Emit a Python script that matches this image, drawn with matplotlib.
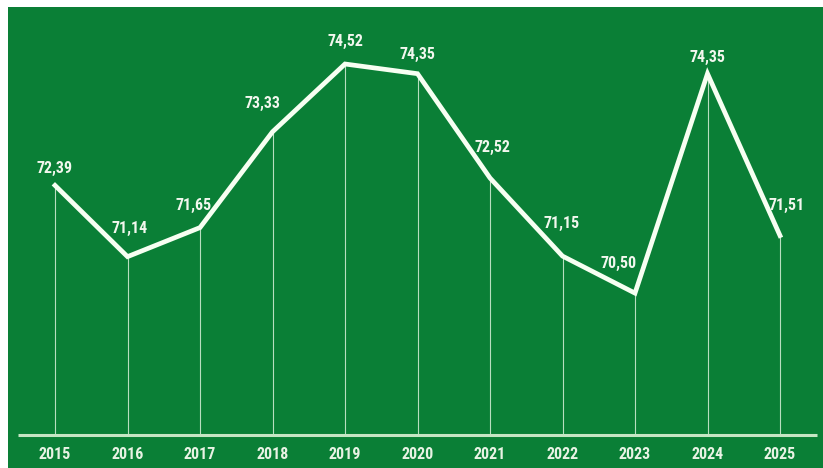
import matplotlib
matplotlib.use("Agg")
import matplotlib.pyplot as plt
from matplotlib import font_manager

years = ["2015", "2016", "2017", "2018", "2019", "2020", "2021", "2022", "2023", "2024", "2025"]
values = [72.39, 71.14, 71.65, 73.33, 74.52, 74.35, 72.52, 71.15, 70.50, 74.35, 71.51]
labels = ["72,39", "71,14", "71,65", "73,33", "74,52", "74,35", "72,52", "71,15", "70,50", "74,35", "71,51"]

# label offsets in pixels (dx, dy upward)
offsets_px = [(0, 17), (2, 28), (-6, 22), (-10, 28), (0, 23), (0, 19),
              (2, 31), (-1, 33), (-16, 30), (0, 16), (7, 30)]

names = {f.name for f in font_manager.fontManager.ttflist}
cands = ["Roboto Condensed", "Liberation Sans Narrow", "Open Sans Condensed"]
fam = [c for c in cands if c in names]
stretch = "normal"
if not fam:
    cond = [f for f in font_manager.fontManager.ttflist
            if f.name == "DejaVu Sans" and f.stretch == "condensed" and f.weight in ("bold", 700)]
    fam = ["DejaVu Sans"]
    stretch = "condensed" if cond else "normal"

GREEN = "#0a7f36"
W, H = 823, 468
fig = plt.figure(figsize=(W / 100, H / 100), dpi=100)
fig.patch.set_facecolor("white")
ax = fig.add_axes([8 / W, 0, 1 - 8 / W, (H - 7) / H])
ax.set_facecolor(GREEN)
for s in ax.spines.values():
    s.set_visible(False)
ax.set_xticks([])
ax.set_yticks([])

xs = list(range(len(years)))
ax.set_xlim(-(55 - 8) / 72.5, 10 + (823 - 780) / 72.5)
ax.set_ylim(74.52 - (468 - 64) / 57.0, 74.52 + (64 - 7) / 57.0)
base = 74.52 - (435 - 64) / 57.0

ax.vlines(xs, base, values, colors="#d8f0d8", linewidth=0.8, alpha=0.85, zorder=2)
ax.plot([-(55 - 18) / 72.5, 10 + (817 - 780) / 72.5], [base, base], color="#c6e6c4",
        linewidth=2.2, solid_capstyle="butt", zorder=2)
ax.plot(xs, values, color="#f7fff2", linewidth=3.4, solid_joinstyle="miter", zorder=3)

fs = 11.5 if stretch == "condensed" or fam[0] != "DejaVu Sans" else 9.0
for x, v, lab, (dx, dy) in zip(xs, values, labels, offsets_px):
    ax.annotate(lab, (x, v), xytext=(dx * 0.72, dy * 0.72), textcoords="offset points",
                ha="center", va="center", color="#f2f7ee", fontsize=fs,
                fontweight="bold", family=fam, fontstretch=stretch, zorder=4)

ybelow = 74.52 - (455 - 64) / 57.0
for x, y in zip(xs, years):
    ax.text(x, ybelow, y, ha="center", va="center", color="#e8f3e4", fontsize=fs,
            fontweight="bold", family=fam, fontstretch=stretch)

fig.savefig("out.png", dpi=100, facecolor="white")
